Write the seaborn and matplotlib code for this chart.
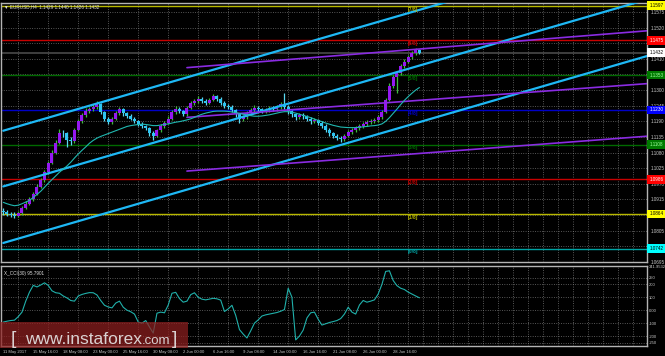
import matplotlib
matplotlib.use("Agg")
import matplotlib.pyplot as plt
import seaborn as sns
import numpy as np
import pandas as pd
from matplotlib.patches import Rectangle

sns.set_style("dark")
plt.rcParams['font.family'] = ['Liberation Sans', 'DejaVu Sans']

# ---------------- data ----------------
opens = [1.0875, 1.0870, 1.0865, 1.0862, 1.0858, 1.0866, 1.0885, 1.0900, 1.0915, 1.0935,
         1.0960, 1.0985, 1.1010, 1.1045, 1.1080, 1.1115, 1.1150, 1.1148, 1.1125, 1.1120,
         1.1160, 1.1190, 1.1212, 1.1228, 1.1232, 1.1240, 1.1252, 1.1222, 1.1200, 1.1188,
         1.1198, 1.1220, 1.1232, 1.1218, 1.1210, 1.1200, 1.1192, 1.1180, 1.1172, 1.1165,
         1.1150, 1.1140, 1.1158, 1.1175, 1.1185, 1.1200, 1.1222, 1.1235, 1.1225, 1.1215,
         1.1238, 1.1255, 1.1262, 1.1268, 1.1262, 1.1255, 1.1265, 1.1278, 1.1270, 1.1255,
         1.1245, 1.1240, 1.1230, 1.1215, 1.1200, 1.1205, 1.1218, 1.1230, 1.1238, 1.1232,
         1.1225, 1.1230, 1.1238, 1.1232, 1.1240, 1.1250, 1.1240, 1.1225, 1.1215, 1.1205,
         1.1212, 1.1208, 1.1198, 1.1190, 1.1195, 1.1185, 1.1175, 1.1160, 1.1148, 1.1140,
         1.1132, 1.1128, 1.1140, 1.1152, 1.1160, 1.1165, 1.1172, 1.1180, 1.1188, 1.1192,
         1.1195, 1.1205, 1.1222, 1.1265, 1.1315, 1.1345, 1.1360, 1.1385, 1.1400, 1.1415,
         1.1430, 1.1442]
closes = [1.0870, 1.0865, 1.0862, 1.0858, 1.0866, 1.0885, 1.0900, 1.0915, 1.0935, 1.0960,
          1.0985, 1.1010, 1.1045, 1.1080, 1.1115, 1.1150, 1.1148, 1.1125, 1.1120, 1.1160,
          1.1190, 1.1212, 1.1228, 1.1232, 1.1240, 1.1252, 1.1222, 1.1200, 1.1188, 1.1198,
          1.1220, 1.1232, 1.1218, 1.1210, 1.1200, 1.1192, 1.1180, 1.1172, 1.1165, 1.1150,
          1.1140, 1.1158, 1.1175, 1.1185, 1.1200, 1.1222, 1.1235, 1.1225, 1.1215, 1.1238,
          1.1255, 1.1262, 1.1268, 1.1262, 1.1255, 1.1265, 1.1278, 1.1270, 1.1255, 1.1245,
          1.1240, 1.1230, 1.1215, 1.1200, 1.1205, 1.1218, 1.1230, 1.1238, 1.1232, 1.1225,
          1.1230, 1.1238, 1.1232, 1.1240, 1.1250, 1.1240, 1.1225, 1.1215, 1.1205, 1.1212,
          1.1208, 1.1198, 1.1190, 1.1195, 1.1185, 1.1175, 1.1160, 1.1148, 1.1140, 1.1132,
          1.1128, 1.1140, 1.1152, 1.1160, 1.1165, 1.1172, 1.1180, 1.1188, 1.1192, 1.1195,
          1.1205, 1.1222, 1.1265, 1.1315, 1.1345, 1.1360, 1.1385, 1.1400, 1.1415, 1.1430,
          1.1442, 1.1432]
highs = [1.0884, 1.0878, 1.0872, 1.0870, 1.0875, 1.0892, 1.0908, 1.0922, 1.0942, 1.0968,
         1.0992, 1.1018, 1.1052, 1.1088, 1.1124, 1.1162, 1.1160, 1.1152, 1.1135, 1.1166,
         1.1197, 1.1220, 1.1236, 1.1242, 1.1250, 1.1262, 1.1256, 1.1228, 1.1206, 1.1205,
         1.1228, 1.1240, 1.1236, 1.1224, 1.1215, 1.1206, 1.1196, 1.1186, 1.1178, 1.1170,
         1.1156, 1.1164, 1.1182, 1.1192, 1.1208, 1.1230, 1.1244, 1.1240, 1.1230, 1.1245,
         1.1263, 1.1270, 1.1278, 1.1274, 1.1268, 1.1272, 1.1286, 1.1284, 1.1274, 1.1260,
         1.1252, 1.1246, 1.1234, 1.1220, 1.1212, 1.1225, 1.1238, 1.1246, 1.1244, 1.1238,
         1.1238, 1.1245, 1.1243, 1.1248, 1.1258, 1.1290, 1.1246, 1.1230, 1.1220, 1.1220,
         1.1218, 1.1213, 1.1204, 1.1202, 1.1200, 1.1190, 1.1180, 1.1165, 1.1153, 1.1146,
         1.1138, 1.1146, 1.1158, 1.1167, 1.1172, 1.1179, 1.1187, 1.1195, 1.1200, 1.1203,
         1.1212, 1.1230, 1.1272, 1.1324, 1.1352, 1.1368, 1.1392, 1.1408, 1.1422, 1.1438,
         1.1448, 1.1446]
lows = [1.0862, 1.0858, 1.0852, 1.0850, 1.0853, 1.0862, 1.0880, 1.0895, 1.0910, 1.0930,
        1.0955, 1.0978, 1.1005, 1.1040, 1.1075, 1.1110, 1.1135, 1.1099, 1.1108, 1.1115,
        1.1155, 1.1184, 1.1205, 1.1218, 1.1225, 1.1235, 1.1215, 1.1192, 1.1180, 1.1182,
        1.1194, 1.1214, 1.1210, 1.1202, 1.1193, 1.1185, 1.1172, 1.1165, 1.1158, 1.1140,
        1.1125, 1.1134, 1.1152, 1.1168, 1.1180, 1.1196, 1.1216, 1.1218, 1.1208, 1.1210,
        1.1232, 1.1248, 1.1255, 1.1254, 1.1246, 1.1250, 1.1260, 1.1262, 1.1248, 1.1238,
        1.1232, 1.1222, 1.1206, 1.1185, 1.1190, 1.1198, 1.1212, 1.1224, 1.1225, 1.1218,
        1.1218, 1.1224, 1.1225, 1.1226, 1.1234, 1.1232, 1.1216, 1.1206, 1.1196, 1.1198,
        1.1200, 1.1190, 1.1182, 1.1184, 1.1177, 1.1167, 1.1152, 1.1140, 1.1130, 1.1124,
        1.1118, 1.1122, 1.1135, 1.1146, 1.1154, 1.1158, 1.1166, 1.1174, 1.1181, 1.1185,
        1.1188, 1.1200, 1.1218, 1.1260, 1.1306, 1.1291, 1.1352, 1.1378, 1.1394, 1.1408,
        1.1424, 1.1426]
ma_values = [1.0905, 1.0900, 1.0896, 1.0893, 1.0895, 1.0900, 1.0906, 1.0912, 1.0922, 1.0933,
             1.0944, 1.0958, 1.0972, 1.0985, 1.0998, 1.1011, 1.1022, 1.1033, 1.1046, 1.1061,
             1.1075, 1.1088, 1.1100, 1.1113, 1.1123, 1.1131, 1.1137, 1.1142, 1.1147, 1.1152,
             1.1157, 1.1162, 1.1167, 1.1172, 1.1175, 1.1177, 1.1179, 1.1180, 1.1179, 1.1177,
             1.1175, 1.1175, 1.1177, 1.1179, 1.1181, 1.1184, 1.1187, 1.1189, 1.1192, 1.1195,
             1.1199, 1.1204, 1.1210, 1.1215, 1.1219, 1.1222, 1.1225, 1.1226, 1.1226, 1.1226,
             1.1225, 1.1223, 1.1221, 1.1218, 1.1215, 1.1212, 1.1210, 1.1208, 1.1208, 1.1209,
             1.1211, 1.1213, 1.1216, 1.1219, 1.1222, 1.1224, 1.1224, 1.1222, 1.1219, 1.1215,
             1.1211, 1.1207, 1.1203, 1.1198, 1.1193, 1.1189, 1.1184, 1.1180, 1.1176, 1.1173,
             1.1170, 1.1169, 1.1168, 1.1168, 1.1168, 1.1169, 1.1171, 1.1172, 1.1174, 1.1175,
             1.1177, 1.1181, 1.1190, 1.1203, 1.1218, 1.1233, 1.1249, 1.1264, 1.1277, 1.1289,
             1.1300, 1.1309]
cci_values = [-92, -85, -80, -77, -50, -15, 70, 140, 192, 180,
              195, 212, 192, 150, 135, 131, 110, 95, 75, 70,
              110, 122, 130, 136, 135, 118, 75, 38, 25, 18,
              55, 70, 23, 0, -12, -30, -92, -100, -80, -130,
              -177, -23, -15, -20, 40, 131, 138, 90, 62, 70,
              120, 135, 100, 85, 80, 86, 92, 88, 78, -10,
              10, 38, -40, -150, -185, -215, -160, -100, -75, -45,
              -36, -30, -24, -18, -8, 5, 170, 100, -230, -200,
              -154, -60, -20, -15, -70, -115, -105, -95, -88, -80,
              -65, -30, 23, -15, -30, 40, 75, 62, 70, 80,
              125, 200, 300, 305, 230, 190, 170, 160, 140, 125,
              110, 95.79]

date_labels = ["11 May 2017", "15 May 16:00", "18 May 08:00", "23 May 00:00", "25 May 16:00",
               "30 May 08:00", "2 Jun 00:00", "6 Jun 16:00", "9 Jun 08:00", "14 Jun 00:00",
               "16 Jun 16:00", "21 Jun 08:00", "26 Jun 00:00", "28 Jun 16:00"]

price_ticks = [1.0695, 1.0750, 1.0805, 1.0860, 1.0915, 1.0970, 1.1025, 1.1080, 1.1135,
               1.1190, 1.1245, 1.1300, 1.1355, 1.1410, 1.1465, 1.1520, 1.1575]
hidden_price_ticks = [1.0750, 1.0860, 1.1355]   # covered by the level boxes
cci_ticks = [-250, -200, -100, 0, 100, 200, 250, 341.9532]
cci_tick_labels = ["-250", "-200", "-100", "0.00", "100", "200", "250", "341.9532"]

murray_levels = [1.0742, 1.0864, 1.0986, 1.1108, 1.1230, 1.1353, 1.1475, 1.1597]
murray_names = ["[0/8]", "[1/8]", "[2/8]", "[3/8]", "[4/8]", "[5/8]", "[6/8]", "[7/8]"]
murray_colors = ["#00A3A3", "#B8B800", "#C80000", "#006A00", "#0000C8", "#006A00", "#C80000", "#B8B800"]
box_colors = ["#00FFFF", "#FFFF00", "#FF0000", "#007A00", "#0000FF", "#007A00", "#FF0000", "#FFFF00"]
box_text_colors = ["black", "black", "white", "#9CFF9C", "white", "#9CFF9C", "white", "black"]

current_price = 1.1432

channel_x = [0, 172]
channel_upper = [1.1157, 1.1816]
channel_middle = [1.0961, 1.1620]
channel_lower = [1.0762, 1.1421]

purple_x = [49, 172]
purple_upper = [1.1379, 1.1509]
purple_middle = [1.1204, 1.1323]
purple_lower = [1.1015, 1.1138]

title_text = "\u25bc EURUSD,H4  1.1429 1.1440 1.1426 1.1432"
cci_title = "X_CCI(30) 95.7901"

# ---------------- figure ----------------
W, H = 665, 356
FS = 3.3
fig = plt.figure(figsize=(W / 100, H / 100), dpi=100, facecolor="black")
ax = fig.add_axes([1 / W, 1 - 262 / H, 646 / W, 259 / H])
axc = fig.add_axes([1 / W, 10 / H, 646 / W, 80 / H], sharex=ax)

grid_kw = dict(color="#8a8a8a", lw=0.5, ls=(0, (1.2, 2.2)))
spine_col = "#B4B4B4"
for a in (ax, axc):
    a.set_facecolor("black")
    for s in a.spines.values():
        s.set_color(spine_col)
        s.set_linewidth(1.0)

idx = np.arange(len(closes))
o = np.array(opens); c = np.array(closes); h = np.array(highs); l = np.array(lows)
up = c >= o
body_col = np.where(up, "#9418F0", "#2EC4F2")
wick_col = np.where(up, "#3DBA3D", "#5AD8F0")

# grid
ax.set_xlim(-0.6, 171.7)
ax.set_ylim(1.0695, 1.16065)
minor_x = np.arange(0, 172, 4)
major_x = np.arange(0, 8 * len(date_labels), 8)
ax.set_xticks(major_x)
ax.set_xticks(minor_x, minor=True)
ax.grid(False)
ax.grid(which="minor", axis="x", **grid_kw)
ax.set_yticks(price_ticks)
ax.grid(which="major", axis="y", **grid_kw)

# Murray levels
for lvl, name, col in zip(murray_levels, murray_names, murray_colors):
    ax.axhline(lvl, color=col, lw=1.0, zorder=2)
    ax.text(108.0, lvl - 0.0003, name, color=col, fontsize=3.6, va="top", ha="left", zorder=6,
            fontweight="bold")
ax.axhline(current_price, color="#505050", lw=1.1, zorder=2)

# channel lines
for vals in (channel_upper, channel_middle, channel_lower):
    sns.lineplot(x=channel_x, y=vals, ax=ax, color="#1EB8F5", lw=1.6, zorder=5)
for vals in (purple_upper, purple_middle, purple_lower):
    sns.lineplot(x=purple_x, y=vals, ax=ax, color="#8A2BE2", lw=1.2, zorder=5)

# candles
ax.vlines(idx, l, h, colors=wick_col, lw=0.9, zorder=3)
heights = np.maximum(np.abs(c - o), 0.00012)
ax.bar(idx, heights, bottom=np.minimum(o, c), width=0.8, color=body_col, lw=0, zorder=4)

# MA
sns.lineplot(x=idx, y=ma_values, ax=ax, color="#20B8B0", lw=0.8, zorder=5)

ax.text(0.004, 0.995, title_text, transform=ax.transAxes, fontsize=FS, color="#E0E0E0",
        va="top", ha="left", zorder=7)

# price axis
ax.yaxis.tick_right()
ax.set_yticklabels(["" if v in hidden_price_ticks else f"{v:.4f}" for v in price_ticks])
ax.tick_params(axis="y", length=0, labelsize=FS, colors="#C8C8C8", pad=3)
ax.tick_params(axis="x", which="both", length=0, labelbottom=False)
ax.set_xlabel(""); ax.set_ylabel("")

box_levels = murray_levels + [current_price]
box_bg = box_colors + ["#FFFFFF"]
box_fg = box_text_colors + ["black"]
for lvl, bg, fg in zip(box_levels, box_bg, box_fg):
    ax.annotate(f"{lvl:.4f}", xy=(1.0, lvl), xycoords=("axes fraction", "data"),
                xytext=(1.6, 0), textcoords="offset points", fontsize=FS, color=fg,
                va="center", ha="left", annotation_clip=False, zorder=8,
                bbox=dict(boxstyle="square,pad=0.4", fc=bg, ec="none"))

# CCI panel
axc.set_ylim(-277, 341.9532)
sns.lineplot(x=idx, y=cci_values, ax=axc, color="#20B0AA", lw=0.8, zorder=5)
axc.grid(False)
axc.set_yticks(cci_ticks)
axc.set_yticklabels(cci_tick_labels)
axc.grid(which="major", axis="y", **grid_kw)
axc.grid(which="minor", axis="x", **grid_kw)
axc.yaxis.tick_right()
axc.tick_params(axis="y", length=0, labelsize=3.0, colors="#C8C8C8", pad=1.2)
axc.set_xticks(major_x)
axc.set_xticks(minor_x, minor=True)
axc.set_xticklabels(date_labels)
for t in axc.get_xticklabels():
    t.set_ha("left")
axc.tick_params(axis="x", which="major", length=2, width=0.6, color="#B4B4B4",
                labelsize=3.0, labelcolor="#C8C8C8", pad=1)
axc.tick_params(axis="x", which="minor", length=0)
axc.set_xlabel(""); axc.set_ylabel("")
axc.text(0.004, 0.94, cci_title, transform=axc.transAxes, fontsize=FS, color="#E0E0E0",
         va="top", ha="left", zorder=7)

# watermark
fig.patches.append(Rectangle((0, 8 / H), 188 / W, 26 / H, transform=fig.transFigure,
                             facecolor="#8E1F1F", alpha=0.72, edgecolor="none", zorder=10))
wm_kw = dict(transform=fig.transFigure, color="#E6E6E6", alpha=0.9, va="baseline",
             ha="left", zorder=11, family=["Liberation Sans", "DejaVu Sans"])
fig.text(11 / W, 1 - 344 / H, "[", fontsize=14, **wm_kw)
fig.text(25 / W, 1 - 344 / H, "www.instaforex", fontsize=12.5, **wm_kw)
fig.text(142 / W, 1 - 344 / H, ".com", fontsize=9.5, **wm_kw)
fig.text(172 / W, 1 - 344 / H, "]", fontsize=14, **wm_kw)

fig.savefig("out.png", dpi=100, facecolor="black")
